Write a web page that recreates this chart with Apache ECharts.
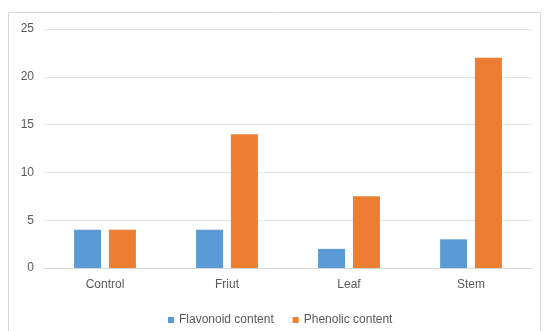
<!DOCTYPE html>
<html>
<head>
<meta charset="utf-8">
<script src="https://cdn.jsdelivr.net/npm/echarts@6/dist/echarts.min.js"></script>
<style>
  html, body { margin: 0; padding: 0; background: #ffffff; }
  #chart { width: 548px; height: 331px; }
</style>
</head>
<body>
<div id="chart"></div>
<script>
// Sample groups and measured contents
var categories = ['Control', 'Friut', 'Leaf', 'Stem'];
var flavonoid = [4, 4, 2, 3];
var phenolic = [4, 14, 7.5, 22];
var seriesNames = ['Flavonoid content', 'Phenolic content'];

var chart = echarts.init(document.getElementById('chart'), null, { renderer: 'canvas' });
var textColor = '#595959';
var fontFamily = '"Liberation Sans", "DejaVu Sans", sans-serif';

chart.setOption({
  animation: false,
  backgroundColor: '#ffffff',
  graphic: [{
    type: 'rect',
    shape: { x: 8.5, y: 12.5, width: 532, height: 330 },
    style: { fill: 'none', stroke: '#d9d9d9', lineWidth: 1 },
    silent: true,
    z: -1
  }],
  grid: { left: 44, right: 16, top: 29, bottom: 63, containLabel: false },
  legend: {
    data: seriesNames,
    left: 163,
    top: 309,
    icon: 'rect',
    itemWidth: 6,
    itemHeight: 6,
    itemGap: 19,
    textStyle: { color: textColor, fontSize: 12, fontFamily: fontFamily }
  },
  xAxis: {
    type: 'category',
    data: categories,
    axisLine: { show: true, lineStyle: { color: '#d9d9d9' } },
    axisTick: { show: false },
    axisLabel: { color: textColor, fontSize: 12, fontFamily: fontFamily, margin: 11 }
  },
  yAxis: {
    type: 'value',
    min: 0,
    max: 25,
    interval: 5,
    axisLine: { show: false },
    axisTick: { show: false },
    axisLabel: { color: textColor, fontSize: 12, fontFamily: fontFamily, margin: 10 },
    splitLine: { lineStyle: { color: '#e6e6e6', width: 1 } }
  },
  series: [{
    name: seriesNames[0],
    type: 'bar',
    data: flavonoid,
    barWidth: 27,
    barGap: '29%',
    itemStyle: { color: '#5b9bd5' }
  }, {
    name: seriesNames[1],
    type: 'bar',
    data: phenolic,
    barWidth: 27,
    barGap: '29%',
    itemStyle: { color: '#ed7d31' }
  }]
});
</script>
</body>
</html>
